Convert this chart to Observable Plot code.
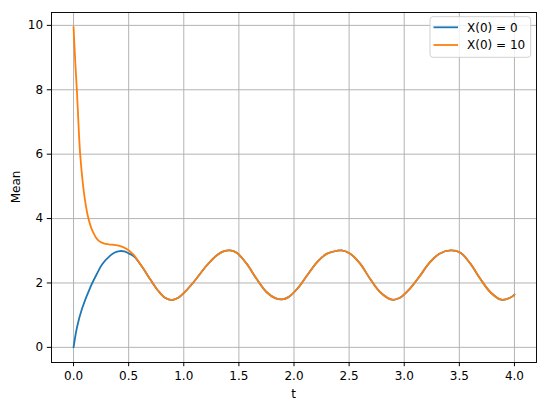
<!DOCTYPE html>
<html>
<head>
<meta charset="utf-8">
<script src="https://cdn.jsdelivr.net/npm/d3@7"></script>
<script src="https://cdn.jsdelivr.net/npm/@observablehq/plot@0.6"></script>
<style>
  html, body { margin: 0; padding: 0; background: #fff; }
  #chart svg { display: block; }
</style>
</head>
<body>
<div id="chart"></div>
<script>
// ---- data ----
const seriesNames = ["X(0) = 0", "X(0) = 10"];
const seriesColors = ["#1f77b4", "#ff7f0e"];

// X(0) = 0 : initial rise
const tHeadBlue    = [0, 0.033, 0.079, 0.154, 0.21, 0.26, 0.33, 0.37, 0.42, 0.46, 0.50, 0.55];
const meanHeadBlue = [0, 0.65, 1.22, 1.88, 2.27, 2.58, 2.84, 2.94, 2.99, 2.98, 2.92, 2.82];

// X(0) = 10 : initial decay
const tHeadOrange    = [0, 0.015, 0.03, 0.06, 0.088, 0.105, 0.127, 0.15, 0.165, 0.184, 0.20, 0.22, 0.245, 0.28, 0.32, 0.41, 0.486, 0.546];
const meanHeadOrange = [9.95, 8.9, 8.0, 6.0, 4.98, 4.55, 4.12, 3.82, 3.67, 3.53, 3.43, 3.34, 3.27, 3.22, 3.20, 3.16, 3.05, 2.87];

// shared periodic part (both curves coincide)
const tTail = [0.62, 0.70, 0.77, 0.83, 0.89, 0.95, 1.01, 1.09, 1.21, 1.30, 1.36, 1.42, 1.48, 1.57, 1.66,
               1.75, 1.83, 1.89, 1.95, 2.03, 2.12, 2.21, 2.30, 2.39, 2.43, 2.51, 2.60, 2.69, 2.78, 2.89,
               2.96, 3.05, 3.14, 3.23, 3.32, 3.42, 3.51, 3.60, 3.69, 3.78, 3.88, 3.96, 4.00];
const meanTail = [2.51, 2.09, 1.75, 1.54, 1.47, 1.54, 1.72, 2.03, 2.55, 2.86, 2.98, 3.01, 2.94, 2.60, 2.13,
                  1.72, 1.53, 1.49, 1.56, 1.82, 2.24, 2.65, 2.91, 3.00, 3.01, 2.91, 2.60, 2.13, 1.72, 1.48,
                  1.54, 1.82, 2.21, 2.63, 2.91, 3.01, 2.94, 2.60, 2.13, 1.72, 1.48, 1.54, 1.64];

const xTicks = [0, 0.5, 1.0, 1.5, 2.0, 2.5, 3.0, 3.5, 4.0];
const yTicks = [0, 2, 4, 6, 8, 10];
const xLabel = "t";
const yLabel = "Mean";

// ---- build tables ----
function build(name, th, mh) {
  const rows = th.map((t, i) => ({series: name, t, mean: mh[i]}));
  return rows.concat(tTail.map((t, i) => ({series: name, t, mean: meanTail[i]})));
}
const blue = build(seriesNames[0], tHeadBlue, meanHeadBlue);
const orange = build(seriesNames[1], tHeadOrange, meanHeadOrange);

const font = "'DejaVu Sans', sans-serif";
const W = 550, H = 407;
const mL = 51, mR = 14, mT = 12, mB = 45;

const plot = Plot.plot({
  width: W,
  height: H,
  marginLeft: mL,
  marginRight: mR,
  marginTop: mT,
  marginBottom: mB,
  style: {fontFamily: font, fontSize: "12px", color: "black", background: "white"},
  x: {domain: [-0.2, 4.2]},
  y: {domain: [-0.47, 10.4]},
  marks: [
    Plot.gridX(xTicks, {stroke: "#b0b0b0", strokeOpacity: 1, strokeWidth: 0.95}),
    Plot.gridY(yTicks, {stroke: "#b0b0b0", strokeOpacity: 1, strokeWidth: 0.95}),
    Plot.line(blue, {x: "t", y: "mean", stroke: seriesColors[0], strokeWidth: 1.8, curve: "catmull-rom"}),
    Plot.line(orange, {x: "t", y: "mean", stroke: seriesColors[1], strokeWidth: 1.8, curve: "catmull-rom"}),
    Plot.axisX({ticks: xTicks, tickFormat: d => d.toFixed(1), tickSize: 4.2, tickPadding: 5, label: null, fontSize: 12}),
    Plot.axisY({ticks: yTicks, tickFormat: d => String(d), tickSize: 4.2, tickPadding: 4.2, label: null, fontSize: 12}),
    Plot.frame({stroke: "black", strokeWidth: 0.95})
  ]
});

document.getElementById("chart").appendChild(plot);

// ---- axis labels and legend ----
const svg = d3.select(plot);
const cx = (mL + (W - mR)) / 2;
const cy = (mT + (H - mB)) / 2;

svg.append("text")
  .attr("x", cx).attr("y", 397.5)
  .attr("text-anchor", "middle")
  .attr("font-family", font).attr("font-size", 12).attr("fill", "black")
  .text(xLabel);

svg.append("text")
  .attr("transform", `translate(19.5,${cy}) rotate(-90)`)
  .attr("text-anchor", "middle")
  .attr("font-family", font).attr("font-size", 12).attr("fill", "black")
  .text(yLabel);

const lg = svg.append("g");
lg.append("rect")
  .attr("x", 430).attr("y", 16.7).attr("width", 100.7).attr("height", 40.6)
  .attr("rx", 3).attr("ry", 3)
  .attr("fill", "white").attr("fill-opacity", 0.8)
  .attr("stroke", "#cccccc").attr("stroke-width", 0.9);
const rowsY = [27.3, 45];
seriesNames.forEach((name, i) => {
  lg.append("line")
    .attr("x1", 433.5).attr("x2", 458).attr("y1", rowsY[i]).attr("y2", rowsY[i])
    .attr("stroke", seriesColors[i]).attr("stroke-width", 1.8);
  lg.append("text")
    .attr("x", 467).attr("y", rowsY[i]).attr("dy", "0.36em")
    .attr("text-anchor", "start")
    .attr("font-family", font).attr("font-size", 12).attr("fill", "black")
    .text(name);
});
</script>
</body>
</html>
